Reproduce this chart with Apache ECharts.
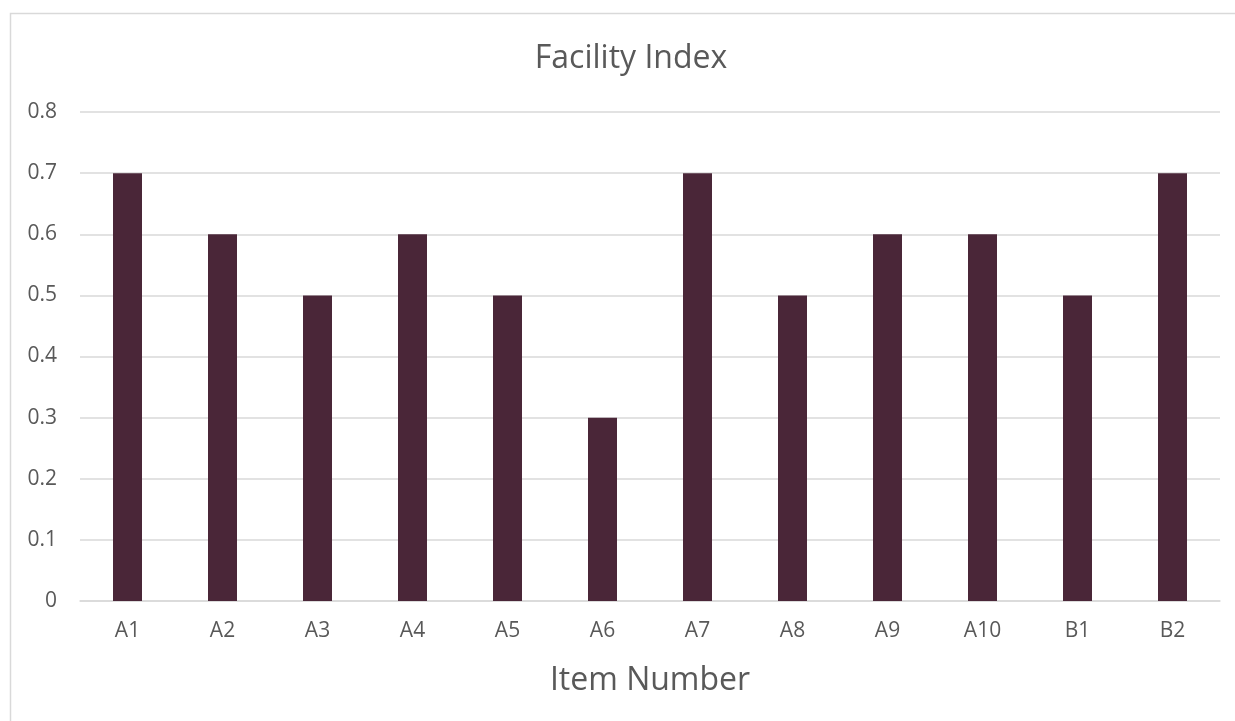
<!DOCTYPE html>
<html>
<head>
<meta charset="utf-8">
<script src="https://cdn.jsdelivr.net/npm/echarts@6/dist/echarts.min.js"></script>
<style>
html,body{margin:0;padding:0;background:#fff;}
#chart{width:1235px;height:721px;}
</style>
</head>
<body>
<div id="chart"></div>
<script>
var categories = ['A1','A2','A3','A4','A5','A6','A7','A8','A9','A10','B1','B2'];
var facilityIndex = [0.7,0.6,0.5,0.6,0.5,0.3,0.7,0.5,0.6,0.6,0.5,0.7];
var yTicks = [0,0.1,0.2,0.3,0.4,0.5,0.6,0.7,0.8];

var chart = echarts.init(document.getElementById('chart'));
var font = 'Open Sans';
chart.setOption({
  animation: false,
  backgroundColor: '#ffffff',
  graphic: [{
    type: 'rect',
    shape: {x: 10.5, y: 13.5, width: 1240, height: 720},
    style: {fill: 'none', stroke: '#d9d9d9', lineWidth: 1.5},
    silent: true
  }],
  title: {
    text: 'Facility Index',
    left: 626,
    textAlign: 'center',
    top: 38,
    textStyle: {fontFamily: font, fontSize: 32, fontWeight: 'normal', color: '#595959'}
  },
  grid: {left: 80, right: 15, top: 112, bottom: 120, containLabel: false},
  xAxis: {
    type: 'category',
    data: categories,
    axisLine: {show: true, lineStyle: {color: '#d9d9d9', width: 1.5}},
    axisTick: {show: false},
    axisLabel: {fontFamily: font, fontSize: 21, color: '#595959', margin: 20},
    name: 'Item Number',
    nameLocation: 'middle',
    nameGap: 64,
    nameTextStyle: {fontFamily: font, fontSize: 32, color: '#595959'}
  },
  yAxis: {
    type: 'value',
    min: yTicks[0],
    max: yTicks[yTicks.length - 1],
    interval: 0.1,
    axisLine: {show: false},
    axisTick: {show: false},
    splitLine: {lineStyle: {color: '#d9d9d9', width: 1.5}},
    axisLabel: {
      fontFamily: font, fontSize: 21, color: '#595959', margin: 23,
      formatter: function (v) { return String(Math.round(v * 10) / 10); }
    }
  },
  series: [{
    type: 'bar',
    data: facilityIndex,
    barWidth: 29,
    itemStyle: {color: '#4a2638'}
  }]
});
</script>
</body>
</html>
